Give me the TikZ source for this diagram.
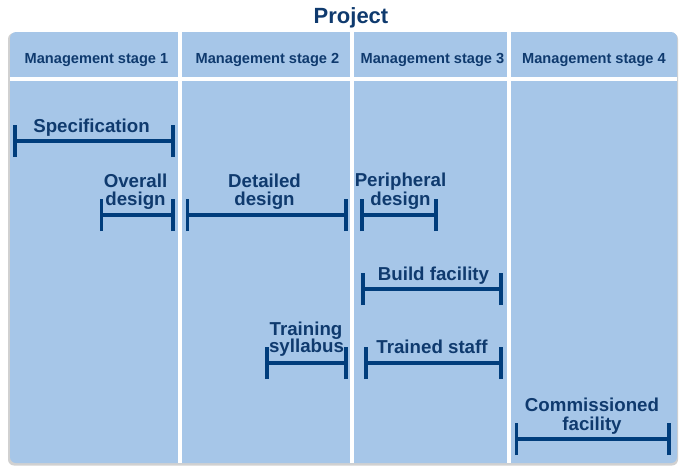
\documentclass[tikz,border=0pt]{standalone}
\usepackage{fontspec}
\setmainfont{Liberation Sans}
\definecolor{panel}{HTML}{A6C6E8}
\definecolor{navy}{HTML}{0F3A6E}
\definecolor{barc}{HTML}{003D7C}
\begin{document}
\begin{tikzpicture}[x=1pt,y=-1pt,
  lbl/.style={anchor=base,inner sep=0pt,text=navy,font=\fontsize{18.7}{18}\selectfont\bfseries},
  hdr/.style={anchor=base,inner sep=0pt,text=navy,font=\fontsize{14.6}{16}\selectfont\bfseries},
  bar/.style={draw=barc,line width=4pt},
  tick/.style={draw=barc,line width=3.6pt}]
\useasboundingbox (0,0) rectangle (685,472);
% panel with shadow
\fill[black!18,rounded corners=6pt] (8,33) rectangle (678,465.5);
\fill[panel,rounded corners=6pt] (10,32) rectangle (677,463);
% white dividers
\fill[white] (10,77) rectangle (677,80.5);
\fill[white] (178,32) rectangle (181.5,463);
\fill[white] (350,32) rectangle (353.5,463);
\fill[white] (507,32) rectangle (510.5,463);
% title and headers
\node[anchor=base,inner sep=0pt,text=navy,font=\fontsize{22}{24}\selectfont\bfseries] (title) at (351,23) {Project};
\node[hdr] (h1) at (96.5,63) {Management stage 1};
\node[hdr] (h2) at (267.5,63) {Management stage 2};
\node[hdr] (h3) at (432.5,63) {Management stage 3};
\node[hdr] (h4) at (594,63) {Management stage 4};
% bars: name, x1, x2, y
\foreach \n/\a/\b/\y in {spec/15/173/141, over/101.5/173/215, det/187.5/346/215, peri/362/436/215,
  build/363/501/289, train/267/346/363, staff/366/501/363, comm/516.5/669/439}{
  \coordinate (\n L) at (\a,\y);
  \coordinate (\n R) at (\b,\y);
  \draw[bar] (\n L) -- (\n R);
  \draw[tick] ([yshift=-16pt]\n L) -- ([yshift=16pt]\n L);
  \draw[tick] ([yshift=-16pt]\n R) -- ([yshift=16pt]\n R);
}
% labels
\node[lbl] (specT) at (91.5,132) {Specification};
\node[lbl] (overT1) at (135.5,187) {Overall};
\node[lbl] (overT2) at (135.5,205) {design};
\node[lbl] (detT1) at (264.5,187) {Detailed};
\node[lbl] (detT2) at (264.5,205) {design};
\node[lbl] (periT1) at (400.5,186) {Peripheral};
\node[lbl] (periT2) at (400.5,205) {design};
\node[lbl] (buildT) at (433.5,280) {Build facility};
\node[lbl] (trainT1) at (306,335) {Training};
\node[lbl] (trainT2) at (306.5,352) {syllabus};
\node[lbl] (staffT) at (432,353) {Trained staff};
\node[lbl] (commT1) at (592,411) {Commissioned};
\node[lbl] (commT2) at (592,430) {facility};
\end{tikzpicture}
\end{document}
